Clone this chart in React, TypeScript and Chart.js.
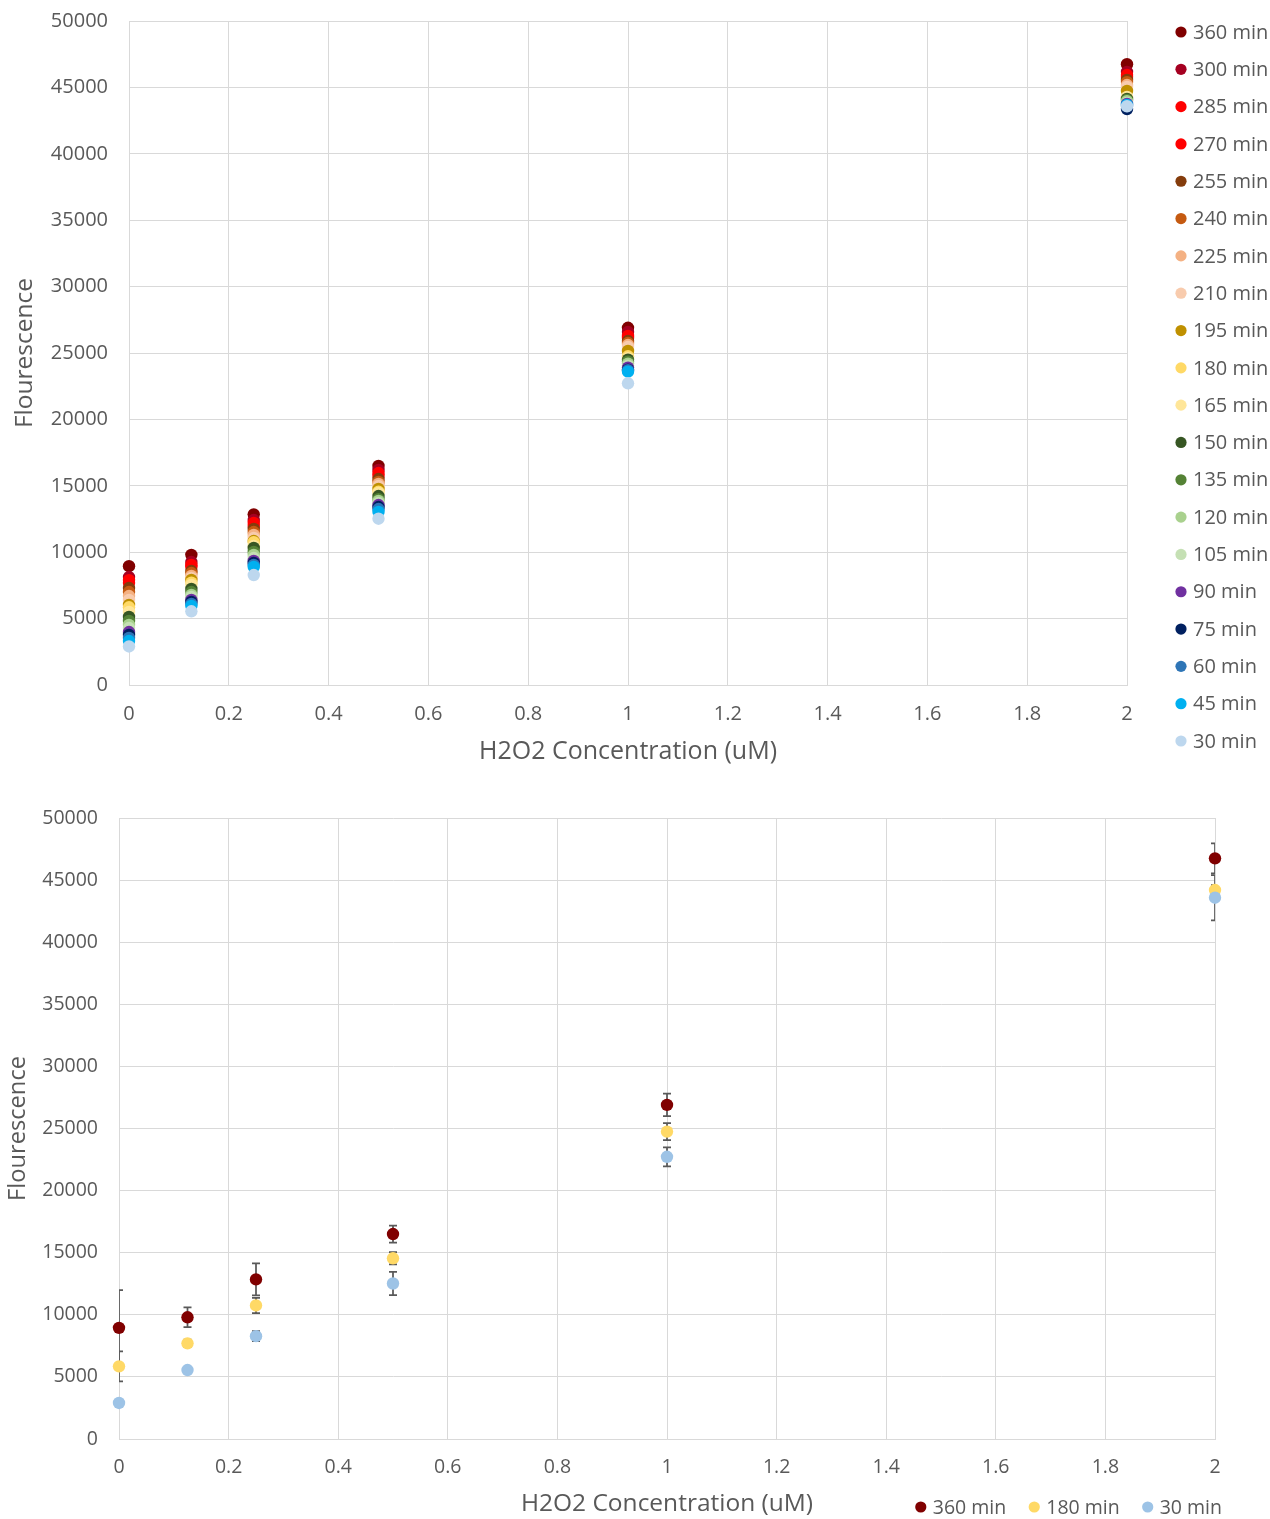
import React, { useEffect, useRef } from "react";
import { Chart, registerables } from "chart.js";

Chart.register(...registerables);

// ---------- data ----------
const CONCENTRATIONS = [0, 0.125, 0.25, 0.5, 1, 2];

const TIME_LABELS = [
  "360 min", "300 min", "285 min", "270 min", "255 min", "240 min", "225 min",
  "210 min", "195 min", "180 min", "165 min", "150 min", "135 min", "120 min",
  "105 min", "90 min", "75 min", "60 min", "45 min", "30 min",
];

const TIME_COLORS = [
  "#800000", "#a50021", "#ff0000", "#ff0000", "#843c0c", "#c55a11", "#f4b183",
  "#f8cbad", "#bf9000", "#ffd966", "#ffe699", "#375623", "#548235", "#a9d18e",
  "#c5e0b4", "#7030a0", "#002060", "#2e75b6", "#00b0f0", "#bdd7ee",
];

const T360 = [8950, 9800, 12850, 16500, 26900, 46750];
const T300 = [8130, 9260, 12420, 16190, 26580, 46160];
const T285 = [7900, 9040, 12200, 15960, 26280, 45930];
const T270 = [7680, 8890, 11970, 15740, 26130, 45780];
const T255 = [7300, 8580, 11750, 15510, 25900, 45560];
const T240 = [7000, 8430, 11520, 15290, 25750, 45400];
const T225 = [6700, 8210, 11300, 15140, 25600, 45180];
const T210 = [6400, 8060, 11070, 14980, 25450, 45030];
const T195 = [6030, 7910, 10840, 14760, 25150, 44730];
const T180 = [5850, 7700, 10750, 14550, 24750, 44200];
const T165 = [5500, 7530, 10470, 14460, 24600, 44280];
const T150 = [5120, 7230, 10320, 14230, 24500, 44130];
const T135 = [4820, 7000, 10020, 14000, 24350, 44050];
const T120 = [4520, 6780, 9790, 13860, 24200, 43970];
const T105 = [4290, 6630, 9560, 13700, 24050, 43820];
const T090 = [3990, 6400, 9340, 13550, 23900, 43750];
const T075 = [3770, 6250, 9190, 13400, 23750, 43370];
const T060 = [3540, 6100, 9040, 13250, 23700, 43600];
const T045 = [3310, 5950, 8890, 13030, 23600, 43680];
const T030 = [2900, 5550, 8280, 12520, 22720, 43580];

const ALL_SERIES = [
  T360, T300, T285, T270, T255, T240, T225, T210, T195, T180,
  T165, T150, T135, T120, T105, T090, T075, T060, T045, T030,
];

// bottom chart: selected series with error bars
const SEL_LABELS = ["360 min", "180 min", "30 min"];
const SEL_COLORS = ["#800000", "#ffd966", "#9dc3e6"];
const SEL_SERIES = [T360, T180, T030];
const ERR_360 = [3030, 790, 1290, 680, 900, 1200];
const ERR_180 = [1210, 300, 620, 500, 680, 400];
const ERR_030 = [200, 200, 400, 940, 760, 1830];
const SEL_ERRORS = [ERR_360, ERR_180, ERR_030];

const X_TICKS = [0, 0.2, 0.4, 0.6, 0.8, 1, 1.2, 1.4, 1.6, 1.8, 2];
const Y_TICKS = [0, 5000, 10000, 15000, 20000, 25000, 30000, 35000, 40000, 45000, 50000];
const X_TITLE = "H2O2 Concentration (uM)";
const Y_TITLE = "Flourescence";

// ---------- styles ----------
const FONT = "'Open Sans', 'Noto Sans', sans-serif";
const TEXT = "#595959";
const GRID = "#d9d9d9";

function verticalLegend(cx: number, firstY: number, lastY: number, r: number, gap: number, size: number) {
  return {
    id: "vlegend",
    afterDraw(chart: any) {
      const ctx = chart.ctx;
      const ds = chart.data.datasets;
      const step = (lastY - firstY) / (ds.length - 1);
      ctx.save();
      ctx.font = `${size}px ${FONT}`;
      ctx.textBaseline = "middle";
      ctx.textAlign = "left";
      ds.forEach((d: any, i: number) => {
        const y = firstY + i * step;
        ctx.beginPath();
        ctx.arc(cx, y, r, 0, Math.PI * 2);
        ctx.fillStyle = d.backgroundColor;
        ctx.fill();
        ctx.fillStyle = TEXT;
        ctx.fillText(d.label, cx + gap, y + 1);
      });
      ctx.restore();
    },
  };
}

function horizontalLegend(endX: number, y: number, r: number, gap: number, between: number, size: number) {
  return {
    id: "hlegend",
    afterDraw(chart: any) {
      const ctx = chart.ctx;
      const ds = chart.data.datasets;
      ctx.save();
      ctx.font = `${size}px ${FONT}`;
      ctx.textBaseline = "middle";
      ctx.textAlign = "left";
      const widths = ds.map((d: any) => ctx.measureText(d.label).width);
      let total = 0;
      widths.forEach((w: number, i: number) => {
        total += gap + w + (i < widths.length - 1 ? between : 0);
      });
      let x = endX - total;
      ds.forEach((d: any, i: number) => {
        ctx.beginPath();
        ctx.arc(x, y, r, 0, Math.PI * 2);
        ctx.fillStyle = d.backgroundColor;
        ctx.fill();
        ctx.fillStyle = TEXT;
        ctx.fillText(d.label, x + gap, y + 1);
        x += gap + widths[i] + between;
      });
      ctx.restore();
    },
  };
}

const errorBars = {
  id: "errorBars",
  beforeDatasetsDraw(chart: any) {
    const ctx = chart.ctx;
    const { left, right, top, bottom } = chart.chartArea;
    const xs = chart.scales.x;
    const ys = chart.scales.y;
    ctx.save();
    ctx.beginPath();
    ctx.rect(left, top, right - left, bottom - top);
    ctx.clip();
    ctx.strokeStyle = "#595959";
    ctx.lineWidth = 1.75;
    chart.data.datasets.forEach((d: any) => {
      if (!d.errors) return;
      d.data.forEach((p: any, j: number) => {
        const e = d.errors[j];
        const px = xs.getPixelForValue(p.x);
        const y1 = ys.getPixelForValue(p.y + e);
        const y2 = ys.getPixelForValue(p.y - e);
        ctx.beginPath();
        ctx.moveTo(px, y1);
        ctx.lineTo(px, y2);
        ctx.moveTo(px - 4, y1);
        ctx.lineTo(px + 4, y1);
        ctx.moveTo(px - 4, y2);
        ctx.lineTo(px + 4, y2);
        ctx.stroke();
      });
    });
    ctx.restore();
  },
};

function makeScales(opts: {
  yWidth: number; xHeight: number; tickSize: number; xTitleSize: number; yTitleSize: number;
  yTitlePad: number; xTitlePad: number;
}) {
  return {
    x: {
      type: "linear",
      min: 0,
      max: 2,
      afterBuildTicks: (s: any) => { s.ticks = X_TICKS.map((value) => ({ value })); },
      afterFit: (s: any) => { s.height = opts.xHeight; s.paddingLeft = 0; s.paddingRight = 0; },
      grid: { color: GRID, drawTicks: false, lineWidth: 1 },
      border: { color: GRID },
      ticks: {
        padding: 17,
        color: TEXT,
        font: { family: FONT, size: opts.tickSize },
        callback: (v: any) => String(v),
        maxRotation: 0,
        autoSkip: false,
      },
      title: {
        display: true,
        text: X_TITLE,
        color: TEXT,
        font: { family: FONT, size: opts.xTitleSize },
        padding: { top: 0, bottom: opts.xTitlePad },
      },
    },
    y: {
      type: "linear",
      min: 0,
      max: 50000,
      afterBuildTicks: (s: any) => { s.ticks = Y_TICKS.map((value) => ({ value })); },
      afterFit: (s: any) => { s.width = opts.yWidth; s.paddingTop = 0; s.paddingBottom = 0; },
      grid: { color: GRID, drawTicks: false, lineWidth: 1 },
      border: { color: GRID },
      ticks: {
        padding: 21,
        color: TEXT,
        font: { family: FONT, size: opts.tickSize },
        callback: (v: any) => String(v),
        autoSkip: false,
      },
      title: {
        display: true,
        text: Y_TITLE,
        color: TEXT,
        font: { family: FONT, size: opts.yTitleSize },
        padding: { top: opts.yTitlePad, bottom: 0 },
      },
    },
  };
}

export default function App() {
  const topRef = useRef<HTMLCanvasElement | null>(null);
  const botRef = useRef<HTMLCanvasElement | null>(null);

  useEffect(() => {
    const n = TIME_LABELS.length;
    const top = new Chart(topRef.current as HTMLCanvasElement, {
      type: "scatter",
      data: {
        datasets: TIME_LABELS.map((label, i) => ({
          label,
          data: CONCENTRATIONS.map((x, j) => ({ x, y: ALL_SERIES[i][j] })),
          backgroundColor: TIME_COLORS[i],
          borderColor: TIME_COLORS[i],
          borderWidth: 0,
          pointRadius: 6.2,
          pointHoverRadius: 6.2,
          order: n - 1 - i,
          clip: false,
        })),
      } as any,
      options: {
        responsive: false,
        animation: false,
        events: [],
        devicePixelRatio: 1,
        layout: { padding: { top: 21, right: 143, bottom: 0, left: 0 } },
        plugins: { legend: { display: false }, tooltip: { enabled: false } },
        scales: makeScales({
          yWidth: 129, xHeight: 87, tickSize: 20, xTitleSize: 25, yTitleSize: 24.5,
          yTitlePad: 10, xTitlePad: 5,
        }) as any,
      },
      plugins: [verticalLegend(1181, 32, 741, 5.6, 12, 20)],
    });

    const bot = new Chart(botRef.current as HTMLCanvasElement, {
      type: "scatter",
      data: {
        datasets: SEL_LABELS.map((label, i) => ({
          label,
          data: CONCENTRATIONS.map((x, j) => ({ x, y: SEL_SERIES[i][j] })),
          errors: SEL_ERRORS[i],
          backgroundColor: SEL_COLORS[i],
          borderColor: SEL_COLORS[i],
          borderWidth: 0,
          pointRadius: 6.2,
          pointHoverRadius: 6.2,
          order: SEL_LABELS.length - 1 - i,
          clip: false,
        })),
      } as any,
      options: {
        responsive: false,
        animation: false,
        events: [],
        devicePixelRatio: 1,
        layout: { padding: { top: 46, right: 55, bottom: 0, left: 0 } },
        plugins: { legend: { display: false }, tooltip: { enabled: false } },
        scales: makeScales({
          yWidth: 119, xHeight: 80, tickSize: 19.5, xTitleSize: 24.5, yTitleSize: 23.7,
          yTitlePad: 4, xTitlePad: 0,
        }) as any,
      },
      plugins: [errorBars, horizontalLegend(1222, 735, 5.6, 12, 28, 19.5)],
    });

    return () => {
      top.destroy();
      bot.destroy();
    };
  }, []);

  return (
    <div style={{ width: 1270, height: 1519, overflow: "hidden", background: "#ffffff" }}>
      <style>{"body{margin:0;overflow:hidden;}"}</style>
      <canvas ref={topRef} width={1270} height={772} style={{ display: "block" }} />
      <canvas ref={botRef} width={1270} height={747} style={{ display: "block" }} />
    </div>
  );
}
